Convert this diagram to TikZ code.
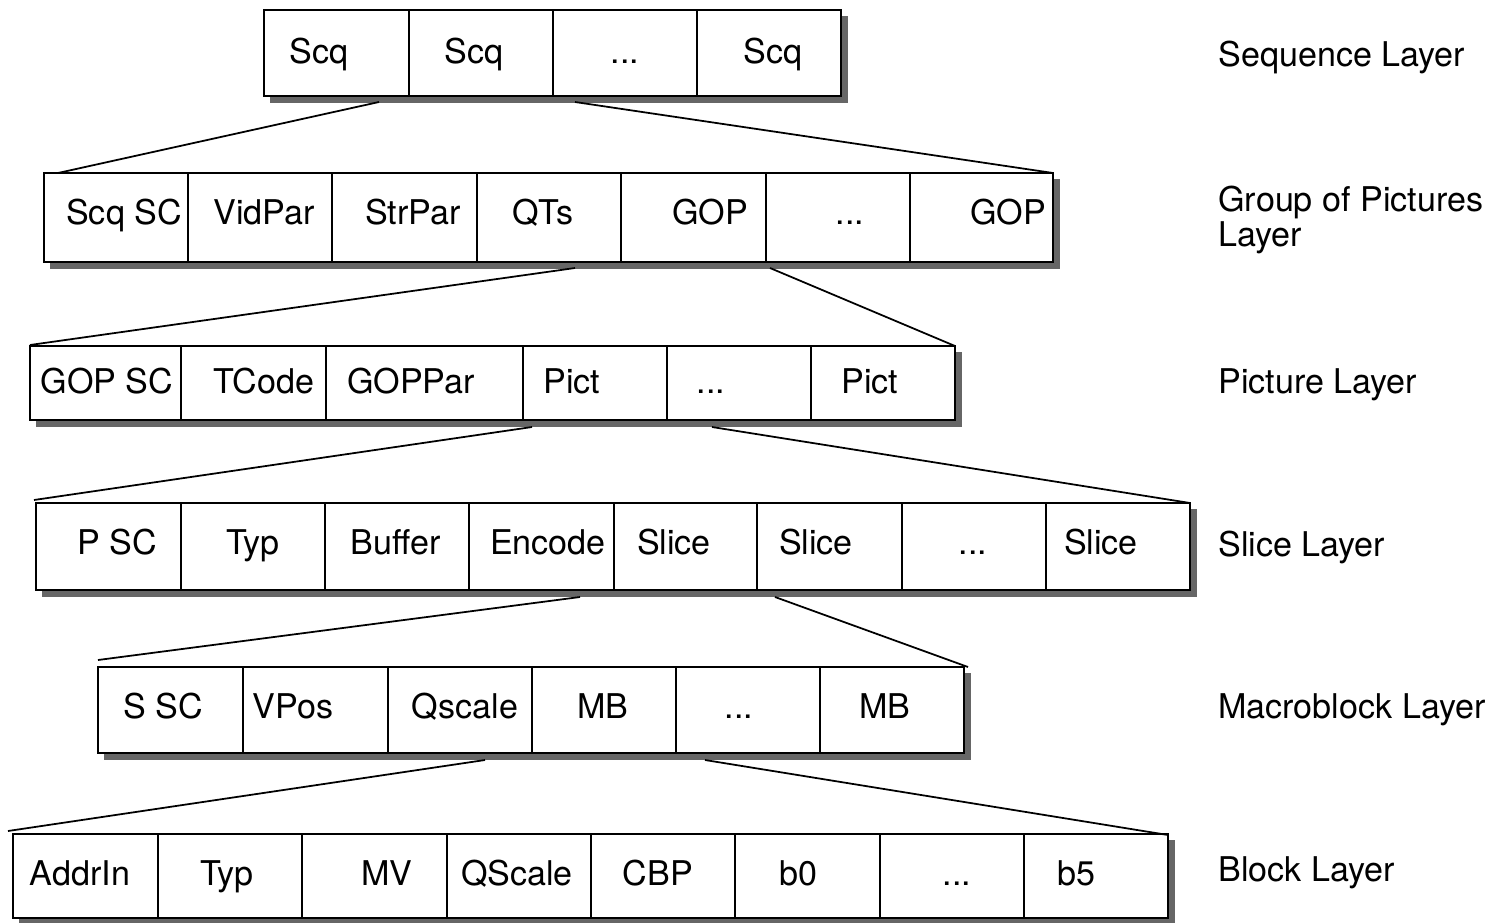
\documentclass[tikz,border=0pt]{standalone}
\usepackage{fontspec}
\setmainfont{TeX Gyre Heros}
\newcommand{\elps}{...}

\begin{document}
\begin{tikzpicture}[x=0.02cm,y=-0.02cm,
  cell/.style={draw=black,fill=white,line width=1.1pt},
  shadowbar/.style={fill=black!60},
  lbl/.style={anchor=base,inner sep=0pt,font=\fontsize{19.4}{19.9}\selectfont},
  layer/.style={anchor=base west,inner sep=0pt,align=left,font=\fontsize{19.4}{19.9}\selectfont},
  fan/.style={draw=black,line width=1pt}]
\useasboundingbox (0,0) rectangle (1498,923);

% sequence layer
\fill[shadowbar] (270,16) rectangle (848,103);
\foreach \xa/\xb/\xt/\t [count=\i] in {264/409/319/Scq,409/553/474/Scq,553/697/625/\elps,697/841/773/Scq}{
  \draw[cell] (\xa,10) rectangle (\xb,96);
  \node[lbl] (seq\i) at (\xt,63) {\t};
}
\node[layer] (seqlayer) at (1218,66) {Sequence Layer};

% group of pictures layer
\fill[shadowbar] (50,179) rectangle (1060,269);
\foreach \xa/\xb/\xt/\t [count=\i] in {44/188/124/Scq SC,188/332/264/VidPar,332/477/413/StrPar,477/621/543/QTs,621/766/710/GOP,766/910/850/\elps,910/1053/1008/GOP}{
  \draw[cell] (\xa,173) rectangle (\xb,262);
  \node[lbl] (gop\i) at (\xt,224) {\t};
}
\node[layer,anchor=west] (goplayer) at (1218,220) {Group of Pictures\\Layer};

% picture layer
\fill[shadowbar] (36,352) rectangle (962,427);
\foreach \xa/\xb/\xt/\t [count=\i] in {30/181/107/GOP SC,181/326/264/TCode,326/523/411/GOPPar,523/667/572/Pict,667/811/711/\elps,811/955/870/Pict}{
  \draw[cell] (\xa,346) rectangle (\xb,420);
  \node[lbl] (pic\i) at (\xt,393) {\t};
}
\node[layer] (piclayer) at (1218,393) {Picture Layer};

% slice layer
\fill[shadowbar] (42,509) rectangle (1197,597);
\foreach \xa/\xb/\xt/\t [count=\i] in {36/181/117/P SC,181/325/253/Typ,325/469/396/Buffer,469/614/548/Encode,614/757/674/Slice,757/902/816/Slice,902/1046/973/\elps,1046/1190/1101/Slice}{
  \draw[cell] (\xa,503) rectangle (\xb,590);
  \node[lbl] (slc\i) at (\xt,554) {\t};
}
\node[layer] (slclayer) at (1218,556) {Slice Layer};

% macroblock layer
\fill[shadowbar] (104,673) rectangle (971,760);
\foreach \xa/\xb/\xt/\t [count=\i] in {98/243/163/S SC,243/388/293/VPos,388/532/465/Qscale,532/676/603/MB,676/820/739/\elps,820/964/885/MB}{
  \draw[cell] (\xa,667) rectangle (\xb,753);
  \node[lbl] (mbl\i) at (\xt,718) {\t};
}
\node[layer] (mbllayer) at (1218,718) {Macroblock Layer};

% block layer
\fill[shadowbar] (19,840) rectangle (1175,925);
\foreach \xa/\xb/\xt/\t [count=\i] in {13/158/80/AddrIn,158/302/227/Typ,302/447/387/MV,447/591/517/QScale,591/735/658/CBP,735/880/798/b0,880/1024/957/\elps,1024/1168/1076/b5}{
  \draw[cell] (\xa,834) rectangle (\xb,918);
  \node[lbl] (blk\i) at (\xt,885) {\t};
}
\node[layer] (blklayer) at (1218,881) {Block Layer};

% fan lines
\coordinate (seqA) at (379,102);
\coordinate (seqB) at (575,102);
\coordinate (gopNW) at (58,173);
\coordinate (gopNE) at (1053,173);
\coordinate (gopA) at (575,268);
\coordinate (gopB) at (770,268);
\coordinate (picNW) at (30,345);
\coordinate (picNE) at (955,346);
\coordinate (picA) at (532,427);
\coordinate (picB) at (712,427);
\coordinate (slcNW) at (34,500);
\coordinate (slcNE) at (1190,503);
\coordinate (slcA) at (580,597);
\coordinate (slcB) at (775,597);
\coordinate (mblNW) at (98,660);
\coordinate (mblNE) at (968,667);
\coordinate (mblA) at (485,760);
\coordinate (mblB) at (705,760);
\coordinate (blkNW) at (8,831);
\coordinate (blkNE) at (1168,835);

\draw[fan] (seqA) -- (gopNW);
\draw[fan] (seqB) -- (gopNE);
\draw[fan] (gopA) -- (picNW);
\draw[fan] (gopB) -- (picNE);
\draw[fan] (picA) -- (slcNW);
\draw[fan] (picB) -- (slcNE);
\draw[fan] (slcA) -- (mblNW);
\draw[fan] (slcB) -- (mblNE);
\draw[fan] (mblA) -- (blkNW);
\draw[fan] (mblB) -- (blkNE);

\end{tikzpicture}
\end{document}
